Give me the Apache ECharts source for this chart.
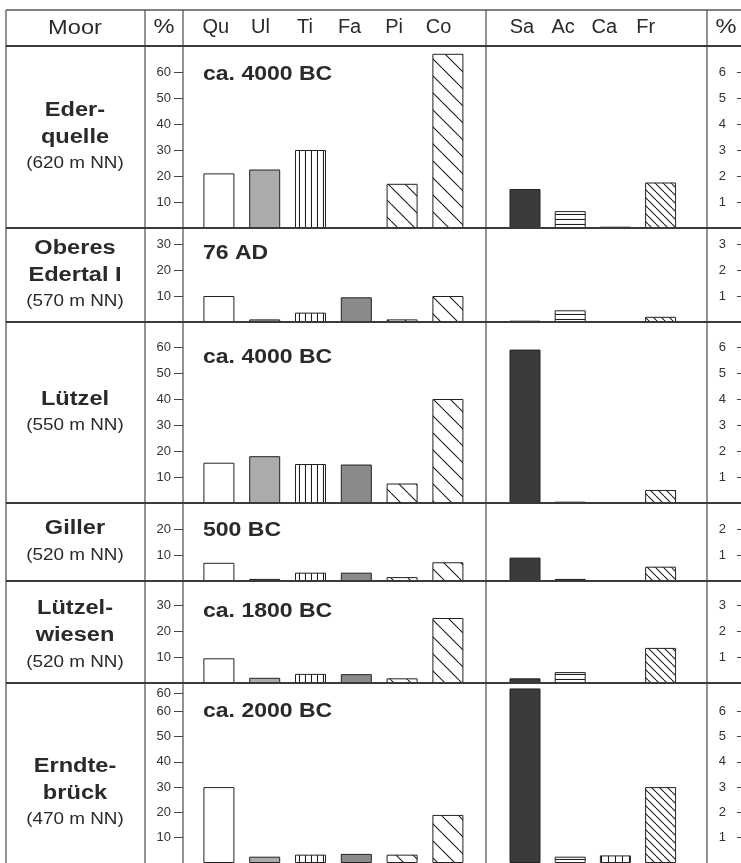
<!DOCTYPE html>
<html>
<head>
<meta charset="utf-8">
<script src="https://cdn.jsdelivr.net/npm/echarts@6/dist/echarts.min.js"></script>
<style>
  html, body { margin: 0; padding: 0; background: #fff; }
  #chart { width: 741px; height: 863px; }
</style>
</head>
<body>
<div id="chart"></div>
<script>
// Pollen taxa (tree taxa on the left panel, shrub/other taxa on the right panel)
const treeTypes = ['Qu', 'Ul', 'Ti', 'Fa', 'Pi', 'Co'];
const shrubTypes = ['Sa', 'Ac', 'Ca', 'Fr'];

// Moors, their elevations and dated horizons
const moorNames = [['Eder-', 'quelle'], ['Oberes', 'Edertal I'], ['Lützel'], ['Giller'], ['Lützel-', 'wiesen'], ['Erndte-', 'brück']];
const elevations = ['(620 m NN)', '(570 m NN)', '(550 m NN)', '(520 m NN)', '(520 m NN)', '(470 m NN)'];
const dates = ['ca. 4000 BC', '76 AD', 'ca. 4000 BC', '500 BC', 'ca. 1800 BC', 'ca. 2000 BC'];

// Percentages per moor (left panel, read on the left % scale)
const treeValues = [
  [21, 22.5, 30, 0, 17, 67],
  [10, 1, 3.6, 9.5, 1, 10],
  [15.5, 18, 15, 14.8, 7.5, 40],
  [7, 0.8, 3.2, 3.2, 1.5, 7.2],
  [9.5, 2, 3.5, 3.4, 1.8, 25],
  [30, 2.5, 3.3, 3.6, 3.3, 19]
];
// Percentages per moor (right panel, read on the right % scale)
const shrubValues = [
  [1.5, 0.65, 0.05, 1.75],
  [0.05, 0.45, 0, 0.2],
  [5.9, 0.05, 0, 0.5],
  [0.9, 0.08, 0.03, 0.55],
  [0.18, 0.42, 0.03, 1.35],
  [6.9, 0.25, 0.3, 3.0]
];

// Tick values and their labels
const treeTicks = [
  [10, 20, 30, 40, 50, 60],
  [10, 20, 30],
  [10, 20, 30, 40, 50, 60],
  [10, 20],
  [10, 20, 30],
  [10, 20, 30, 40, 50, 60, 67]
];
const treeTickLabels = [
  ['10', '20', '30', '40', '50', '60'],
  ['10', '20', '30'],
  ['10', '20', '30', '40', '50', '60'],
  ['10', '20'],
  ['10', '20', '30'],
  ['10', '20', '30', '40', '50', '60', '60']
];
const shrubTicks = [
  [1, 2, 3, 4, 5, 6],
  [1, 2, 3],
  [1, 2, 3, 4, 5, 6],
  [1, 2],
  [1, 2, 3],
  [1, 2, 3, 4, 5, 6]
];

// ---- layout ----
const W = 741, H = 863;
const FONT = "'Liberation Sans', Arial, sans-serif";
const TEXT = '#2a2a2a';
const tableTop = 10, headerBottom = 46;
const rowTops = [46, 228, 322, 503, 581, 683];
const rowBottoms = [228, 322, 503, 581, 683, 868];
const rowEnds = [228, 322, 503, 581, 690, 903];   // full cell extent (last row runs past the page)
const dateOffsets = [29, 26, 36, 28, 31, 29];
const colLines = [6, 145, 183, 486, 707];
const PX_PER_PCT = 2.6;         // left scale: pixels per percent
const leftGrid = { left: 196, width: 6 * 45.8 };
const rightGrid = { left: 502.4, width: 4 * 45.2 };
const leftAxisX = 183, rightAxisX = 745;
const STRETCH = 1.18;

// ---- fill patterns ----
function tile(w, h, draw) {
  const c = document.createElement('canvas');
  c.width = w; c.height = h;
  const g = c.getContext('2d');
  g.fillStyle = '#fff';
  g.fillRect(0, 0, w, h);
  g.strokeStyle = '#1e1e1e';
  g.lineWidth = 1.1;
  draw(g, w, h);
  return { image: c, repeat: 'repeat' };
}
function backslash(s) {
  return tile(s, s, (g, w, h) => {
    g.beginPath();
    for (let k = -1; k <= 1; k++) {
      g.moveTo(k * s, 0);
      g.lineTo(k * s + s, s);
    }
    g.stroke();
  });
}
const verticalLines = (s) => tile(s, 4, (g, w, h) => {
  g.beginPath(); g.moveTo(w - 0.5, 0); g.lineTo(w - 0.5, h); g.stroke();
});
const horizontalLines = (s) => tile(4, s, (g, w, h) => {
  g.beginPath(); g.moveTo(0, h - 0.5); g.lineTo(w, h - 0.5); g.stroke();
});

const treeFills = ['#ffffff', '#ababab', verticalLines(6), '#8a8a8a', backslash(17), backslash(17)];
const shrubFills = ['#3b3b3b', horizontalLines(5), verticalLines(7), backslash(8)];

// header labels sit a little left of their bar centres
const headerShift = (names, step) => names.map((n, i) => ({ value: n, textStyle: { padding: [0, 6 + i * step, 0, 0] } }));

// ---- build grids, axes, series ----
const grid = [], xAxis = [], yAxis = [], series = [];

rowTops.forEach((top, r) => {
  const bottom = rowBottoms[r];
  const leftMax = (bottom - top) / PX_PER_PCT;
  const rightMax = leftMax / 10;

  // left panel
  grid.push({ left: leftGrid.left, width: leftGrid.width, top: top, bottom: H - bottom, containLabel: false });
  const gL = grid.length - 1;
  xAxis.push({
    type: 'category', gridIndex: gL, data: r === 0 ? headerShift(treeTypes, 2.5) : treeTypes, position: 'top',
    axisLine: { show: false }, axisTick: { show: false },
    axisLabel: { show: r === 0, margin: 9, fontSize: 20, fontFamily: FONT, color: TEXT }
  });
  yAxis.push({
    type: 'value', gridIndex: gL, min: 0, max: leftMax, position: 'left',
    offset: leftGrid.left - leftAxisX,
    splitLine: { show: false }, axisLine: { show: false },
    axisTick: { show: true, length: 9, customValues: treeTicks[r], lineStyle: { color: '#444', width: 1 } },
    axisLabel: {
      customValues: treeTicks[r], margin: 12, fontSize: 13, fontFamily: FONT, color: '#333',
      formatter: (v) => treeTickLabels[r][treeTicks[r].indexOf(v)]
    }
  });
  series.push({
    type: 'bar', xAxisIndex: gL, yAxisIndex: gL, barWidth: 31, silent: true,
    data: treeValues[r].map((v, i) => ({ value: v, itemStyle: { color: treeFills[i] } })),
    itemStyle: { borderColor: '#222', borderWidth: 1 }
  });

  // right panel
  grid.push({ left: rightGrid.left, width: rightGrid.width, top: top, bottom: H - bottom, containLabel: false });
  const gR = grid.length - 1;
  xAxis.push({
    type: 'category', gridIndex: gR, data: r === 0 ? headerShift(shrubTypes, 8) : shrubTypes, position: 'top',
    axisLine: { show: false }, axisTick: { show: false },
    axisLabel: { show: r === 0, margin: 9, fontSize: 20, fontFamily: FONT, color: TEXT }
  });
  yAxis.push({
    type: 'value', gridIndex: gR, min: 0, max: rightMax, position: 'right',
    offset: rightAxisX - (rightGrid.left + rightGrid.width),
    splitLine: { show: false }, axisLine: { show: false },
    axisTick: { show: true, inside: true, length: 8, customValues: shrubTicks[r], lineStyle: { color: '#444', width: 1 } },
    axisLabel: {
      inside: true, customValues: shrubTicks[r], margin: 19, fontSize: 13, fontFamily: FONT, color: '#333',
      formatter: (v) => String(v)
    }
  });
  series.push({
    type: 'bar', xAxisIndex: gR, yAxisIndex: gR, barWidth: 31, silent: true,
    data: shrubValues[r].map((v, i) => ({ value: v, itemStyle: { color: shrubFills[i] } })),
    itemStyle: { borderColor: '#222', borderWidth: 1 }
  });
});

// ---- table frame and text ----
const graphic = [];
function hLine(y, w, color) {
  graphic.push({ type: 'line', z: 50, silent: true, shape: { x1: colLines[0], y1: y, x2: W, y2: y }, style: { stroke: color, lineWidth: w } });
}
function vLine(x) {
  graphic.push({ type: 'line', z: 50, silent: true, shape: { x1: x, y1: tableTop, x2: x, y2: H }, style: { stroke: '#4a4a4a', lineWidth: 1.2 } });
}
function text(x, y, s, font, align) {
  graphic.push({
    type: 'text', z: 60, silent: true, x: x, y: y, scaleX: STRETCH,
    style: { text: s, font: font, fill: TEXT, textAlign: align || 'center', textVerticalAlign: 'middle', align: align || 'center', verticalAlign: 'middle' }
  });
}

colLines.forEach(vLine);
hLine(tableTop, 1.4, '#555');
hLine(headerBottom, 1.8, '#3a3a3a');
rowBottoms.forEach((y) => { if (y < H) hLine(y, 1.8, '#3a3a3a'); });

// header
text(75, 28, 'Moor', `20px ${FONT}`);
text(164, 27, '%', `20px ${FONT}`);
text(726, 27, '%', `20px ${FONT}`);

// moor names, elevations and dates
const LINE = 27;
rowTops.forEach((top, r) => {
  const lines = moorNames[r].concat([elevations[r]]);
  const mid = (top + rowEnds[r]) / 2;
  const n = lines.length;
  lines.forEach((s, i) => {
    const y = mid + (i - (n - 1) / 2) * LINE;
    const isName = i < n - 1;
    text(75, y, s, isName ? `bold 20px ${FONT}` : `16px ${FONT}`);
  });
  text(203, top + dateOffsets[r], dates[r], `bold 19.5px ${FONT}`, 'left');
});

const chart = echarts.init(document.getElementById('chart'), null, { renderer: 'canvas', width: W, height: H });
chart.setOption({
  animation: false,
  backgroundColor: '#ffffff',
  grid, xAxis, yAxis, series, graphic
});
</script>
</body>
</html>
